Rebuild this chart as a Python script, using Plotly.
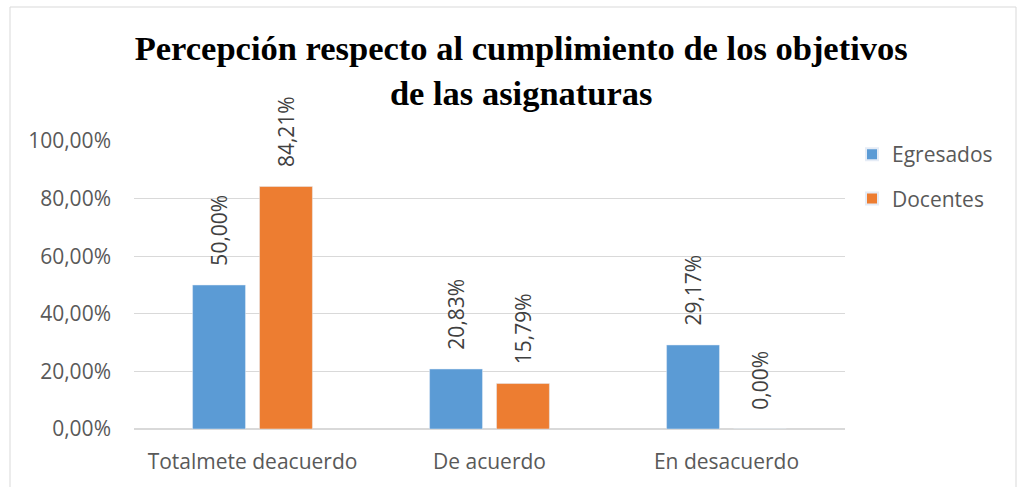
import plotly.graph_objects as go

categorias = ["Totalmete deacuerdo", "De acuerdo", "En desacuerdo"]
egresados = [50.00, 20.83, 29.17]
docentes = [84.21, 15.79, 0.00]
ticks_y = [0, 20, 40, 60, 80, 100]
ticks_texto = ["0,00%", "20,00%", "40,00%", "60,00%", "80,00%", "100,00%"]

AZUL = "#5B9BD5"
NARANJA = "#ED7D31"
GRIS = "#595959"
LINEA = "#D9D9D9"
FUENTE = "Open Sans"

fig = go.Figure()
for nombre, valores, color in [("Egresados", egresados, AZUL), ("Docentes", docentes, NARANJA)]:
    fig.add_trace(go.Bar(
        name=nombre, x=categorias, y=valores, marker_color=color,
        legendgroup=nombre,
        texttemplate="\u00a0\u00a0\u00a0%{y:.2f}%", textposition="outside", textangle=-90,
        textfont=dict(size=21, color="#404040", family=FUENTE),
        constraintext="none", cliponaxis=False,
    ))

W, H = 1018, 487
L, R, T, B = 134, 173, 141, 58
pw, ph = W - L - R, H - T - B


def px_x(p):
    return (p - L) / pw


def px_y(p):
    return (H - B - p) / ph


fig.update_layout(
    width=W, height=H,
    margin=dict(l=L, r=R, t=T, b=B),
    paper_bgcolor="white", plot_bgcolor="white",
    separators=",.",
    barmode="group", bargap=0.435, bargroupgap=0.21,
    font=dict(family=FUENTE, color=GRIS, size=21),
    title=dict(
        text="<b>Percepción respecto al cumplimiento de los objetivos<br>de las asignaturas</b>",
        font=dict(family="Liberation Serif", size=34.5, color="black"),
        x=0.512, xanchor="center", yref="container", y=1 - 60 / H, yanchor="top",
    ),
    legend=dict(
        x=px_x(852), y=px_y(134), xanchor="left", yanchor="top",
        font=dict(size=21, color=GRIS), tracegroupgap=14, itemsizing="constant",
        bgcolor="rgba(0,0,0,0)",
    ),
    showlegend=True,
    shapes=[dict(
        type="rect", xref="paper", yref="paper",
        x0=px_x(10), x1=px_x(1016), y0=px_y(490), y1=px_y(7),
        line=dict(color=LINEA, width=1), layer="below",
    )],
)
fig.update_yaxes(
    range=[0, 100], tickvals=ticks_y, ticktext=ticks_texto, automargin=False,
    gridcolor=LINEA, zeroline=True, zerolinecolor=LINEA, showline=False,
    tickfont=dict(size=21, color=GRIS), ticks="", ticklabelstandoff=22,
)
fig.update_xaxes(
    showline=False, tickfont=dict(size=21, color=GRIS), ticks="", automargin=False,
    ticklabelstandoff=18,
)

fig.write_html(
    "out.html",
    config={"displayModeBar": False},
    post_script="document.body.style.margin='0';",
)
